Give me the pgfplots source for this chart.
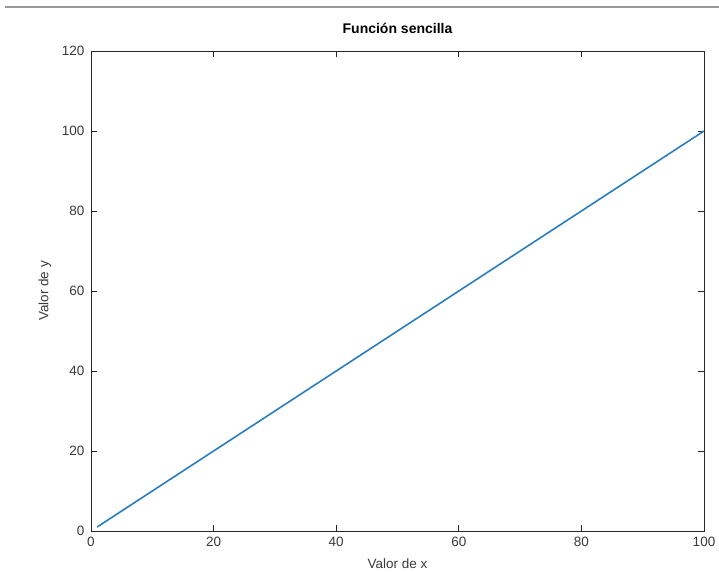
\documentclass[border=0pt]{standalone}
\usepackage{pgfplots}
\pgfplotsset{compat=1.18}
\usepackage{fontspec}
\setmainfont{Liberation Sans}
\definecolor{octblue}{HTML}{2A7DBF}
\definecolor{axgray}{HTML}{262626}
\definecolor{txtgray}{HTML}{3A3A3A}
\begin{document}
\begin{tikzpicture}[x=1pt,y=1pt]
\path[use as bounding box] (0,0) rectangle (719,571);
\draw[color=gray!80, line width=1.5pt] (5,564) -- (719,564);
\begin{axis}[
  at={(91pt,40pt)}, anchor=south west,
  scale only axis, width=613pt, height=480pt,
  xmin=0, xmax=100, ymin=0, ymax=120,
  xtick={0,20,...,100}, ytick={0,20,...,120},
  tick align=inside, major tick length=6pt,
  axis line style={color=axgray, line width=0.8pt},
  every tick/.style={color=axgray, line width=0.8pt},
  tick label style={font=\fontsize{13.5}{15}\selectfont, color=txtgray},
  /pgf/number format/assume math mode=true,
  xlabel={Valor de x}, ylabel={Valor de y},
  label style={font=\fontsize{13.5}{15}\selectfont, color=txtgray},
  xlabel style={yshift=-5pt},
  ylabel style={yshift=4pt},
  yticklabel style={xshift=-3pt},
  title={Función sencilla},
  title style={font=\fontsize{14}{16}\selectfont\bfseries, yshift=8pt},
  xticklabel style={yshift=-3pt},
]
\addplot[color=octblue, line width=1.6pt] coordinates {(1,1) (100,100)};
\end{axis}
\end{tikzpicture}
\end{document}
